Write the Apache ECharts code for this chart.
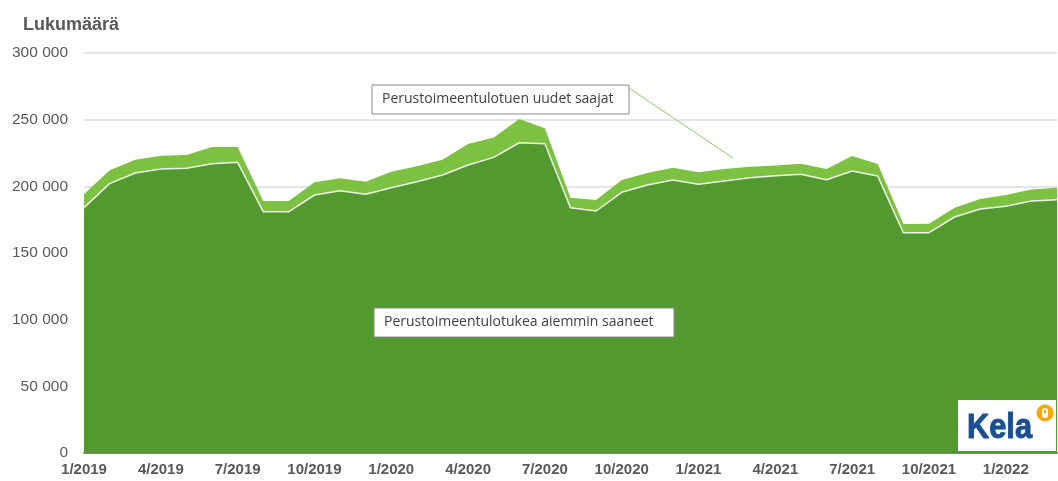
<!DOCTYPE html>
<html>
<head>
<meta charset="utf-8">
<script src="https://cdn.jsdelivr.net/npm/echarts@6/dist/echarts.min.js"></script>
<style>html,body{margin:0;padding:0;background:#fff}#c{width:1058px;height:481px}</style>
</head>
<body>
<div id="c"></div>
<script>
const months = [];
for (let y = 2019; y <= 2022; y++) for (let m = 1; m <= 12; m++) months.push(m + '/' + y);
const categories = months.slice(0, 39); // 1/2019 .. 3/2022
const tickLabels = ['1/2019','4/2019','7/2019','10/2019','1/2020','4/2020','7/2020','10/2020','1/2021','4/2021','7/2021','10/2021','1/2022'];
const aiemminSaaneet = [184000,202000,210000,213000,213500,217000,218000,181000,181000,193500,196700,194000,199000,203500,208500,216000,221700,232700,232000,184000,181500,195500,201000,204700,201500,204000,206500,208000,209000,205000,211500,207700,165200,165200,177000,183000,185000,189000,190000];
const kokonais = [194000,212000,220000,223000,223500,229500,229500,189000,189000,203000,206000,203500,211000,215000,220000,231700,236700,250500,243500,191500,189700,204700,210000,214000,210500,213000,214700,215700,217000,213000,222700,216700,171700,172000,184000,190500,193500,197700,199000];
const uudetSaajat = kokonais.map((t, i) => t - aiemminSaaneet[i]);

const chart = echarts.init(document.getElementById('c'));
const fmt = v => String(v).replace(/\B(?=(\d{3})+(?!\d))/g, ' ');
chart.setOption({
  animation: false,
  grid: { left: 84, right: 1, top: 53, bottom: 28 },
  xAxis: {
    type: 'category', data: categories, boundaryGap: false,
    axisLine: { lineStyle: { color: '#808080', width: 2 } },
    axisTick: { show: false },
    axisLabel: {
      interval: (i, v) => tickLabels.indexOf(v) >= 0,
      color: '#595959', fontWeight: 'bold', fontSize: 15, fontFamily: 'Liberation Sans, Arial', margin: 9
    },
    splitLine: { show: false }
  },
  yAxis: {
    type: 'value', min: 0, max: 300000, interval: 50000,
    axisLine: { show: false }, axisTick: { show: false },
    axisLabel: { color: '#595959', fontSize: 15.5, fontFamily: 'Liberation Sans, Arial', margin: 16, formatter: fmt },
    splitLine: { lineStyle: { color: '#d9dde3', width: 1.5 } }
  },
  series: [
    { name: 'Perustoimeentulotukea aiemmin saaneet', type: 'line', stack: 'a', data: aiemminSaaneet, symbol: 'none',
      lineStyle: { color: '#eef3e6', width: 1.5 }, areaStyle: { color: '#529a30', opacity: 1 }, z: 3 },
    { name: 'Perustoimeentulotuen uudet saajat', type: 'line', stack: 'a', data: uudetSaajat, symbol: 'none',
      lineStyle: { width: 0 }, areaStyle: { color: '#7cc142', opacity: 1 }, z: 2 }
  ],
  graphic: [
    { type: 'text', left: 23, top: 16, z: 100, style: { text: 'Lukumäärä', fill: '#595959', font: 'bold 18px Liberation Sans, Arial' } },
    { type: 'line', z: 100, shape: { x1: 629, y1: 88, x2: 733, y2: 158 }, style: { stroke: '#8cc66a', lineWidth: 1 } },
    { type: 'rect', z: 100, shape: { x: 372, y: 85, width: 257, height: 29 }, style: { fill: '#fff', stroke: '#8a8a8a', lineWidth: 1 } },
    { type: 'text', z: 101, x: 382, y: 92, style: { text: 'Perustoimeentulotuen uudet saajat', fill: '#404040', font: '14px Open Sans' } },
    { type: 'rect', z: 100, shape: { x: 374, y: 308, width: 300, height: 29 }, style: { fill: '#fff', stroke: '#8a8a8a', lineWidth: 1 } },
    { type: 'text', z: 101, x: 384, y: 315, style: { text: 'Perustoimeentulotukea aiemmin saaneet', fill: '#404040', font: '14px Open Sans' } },
    { type: 'rect', z: 100, shape: { x: 958, y: 400, width: 98, height: 51 }, style: { fill: '#fff' } },
    { type: 'text', z: 101, x: 967, y: 411, scaleX: 0.88, style: { text: 'Kela', fill: '#1b4f91', fontWeight: 'bold', fontSize: 35, fontFamily: 'Liberation Sans', stroke: '#1b4f91', lineWidth: 1 } },
    { type: 'circle', z: 101, shape: { cx: 1045, cy: 413, r: 8.5 }, style: { fill: '#f6a800' } },
    { type: 'rect', z: 102, shape: { x: 1042, y: 408, width: 6, height: 10, r: 3 }, style: { fill: '#fff' } },
    { type: 'rect', z: 103, shape: { x: 1044, y: 410, width: 2, height: 3 }, style: { fill: '#f6a800' } }
  ]
});
</script>
</body>
</html>
